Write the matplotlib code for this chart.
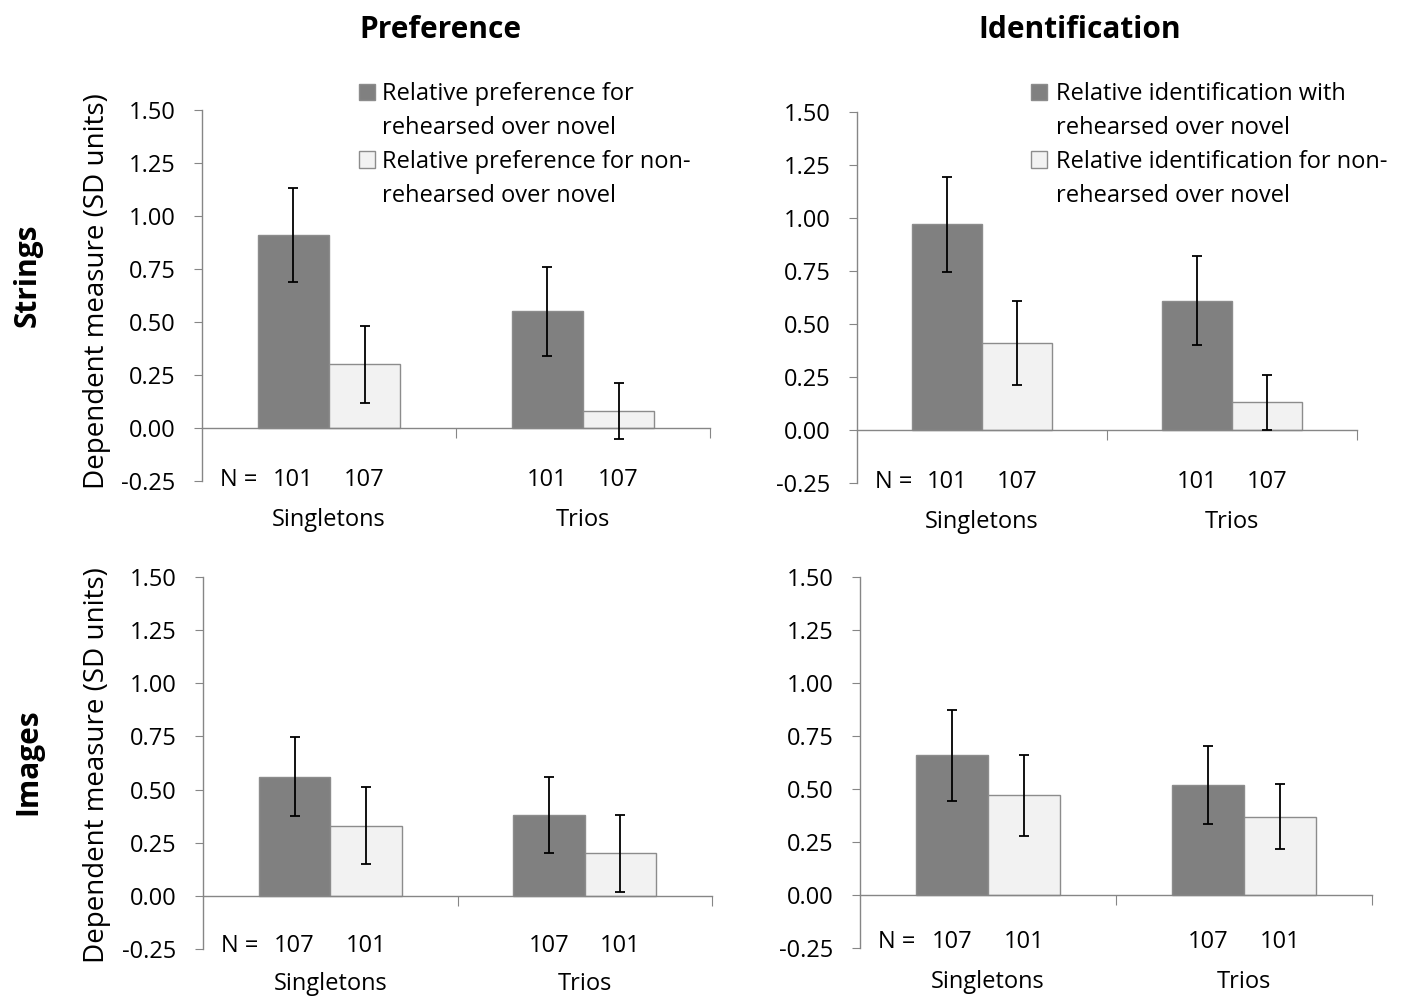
import matplotlib
matplotlib.use("Agg")
import matplotlib.pyplot as plt
from matplotlib.patches import Patch
import numpy as np

plt.rcParams['font.family'] = ['Open Sans', 'DejaVu Sans']

categories = ["Singletons", "Trios"]

# Strings / Preference
pref_str_reh = [0.91, 0.55]
pref_str_reh_err = [0.22, 0.21]
pref_str_non = [0.30, 0.08]
pref_str_non_err = [0.18, 0.13]
# Strings / Identification
iden_str_reh = [0.97, 0.61]
iden_str_reh_err = [0.225, 0.21]
iden_str_non = [0.41, 0.13]
iden_str_non_err = [0.20, 0.13]
# Images / Preference
pref_img_reh = [0.56, 0.38]
pref_img_reh_err = [0.185, 0.18]
pref_img_non = [0.33, 0.20]
pref_img_non_err = [0.18, 0.18]
# Images / Identification
iden_img_reh = [0.66, 0.52]
iden_img_reh_err = [0.215, 0.185]
iden_img_non = [0.47, 0.37]
iden_img_non_err = [0.19, 0.155]

n_strings = ["101", "107"]
n_images = ["107", "101"]

yticks = [-0.25, 0.0, 0.25, 0.50, 0.75, 1.00, 1.25, 1.50]

legend_pref = ["Relative preference for", "rehearsed over novel",
               "Relative preference for non-", "rehearsed over novel"]
legend_iden = ["Relative identification with", "rehearsed over novel",
               "Relative identification for non-", "rehearsed over novel"]

W, H = 1403, 997
fig = plt.figure(figsize=(W / 100, H / 100), dpi=100)

DARK = '#808080'
LIGHT = '#f2f2f2'
EDGE = '#8c8c8c'
AXC = '#868686'
FS = 17


def px_axes(l, r, t, b):
    return fig.add_axes([l / W, 1 - b / H, (r - l) / W, (b - t) / H])


def panel(ax, reh, reh_err, non, non_err, nlabels, n_y, cat_y):
    x = np.arange(len(categories))
    w = 0.28
    b1 = ax.bar(x - w / 2, reh, w, color=DARK, edgecolor=EDGE, linewidth=1, zorder=2)
    b2 = ax.bar(x + w / 2, non, w, color=LIGHT, edgecolor=EDGE, linewidth=1, zorder=2)
    ax.errorbar(x - w / 2, reh, yerr=reh_err, fmt='none', ecolor='black',
                elinewidth=1.3, capsize=3.5, capthick=1.3, zorder=3)
    ax.errorbar(x + w / 2, non, yerr=non_err, fmt='none', ecolor='black',
                elinewidth=1.3, capsize=3.5, capthick=1.3, zorder=3)
    ax.set_xlim(-0.5, 1.5)
    ax.set_ylim(-0.25, 1.5)
    ax.set_yticks(yticks)
    ax.set_yticklabels([f"{v:.2f}" for v in yticks], fontsize=FS)
    ax.set_xticks([0.5, 1.5])
    ax.set_xticklabels([])
    for s in ['top', 'right']:
        ax.spines[s].set_visible(False)
    ax.spines['bottom'].set_position(('data', 0))
    ax.spines['bottom'].set_color(AXC)
    ax.spines['left'].set_color(AXC)
    ax.spines['bottom'].set_linewidth(1)
    ax.spines['left'].set_linewidth(1)
    ax.tick_params(axis='y', direction='out', length=6, color=AXC, pad=13)
    ax.tick_params(axis='x', direction='out', length=7, color=AXC)
    ax.patch.set_visible(False)
    for i in range(len(categories)):
        ax.text(x[i] - w / 2, n_y, nlabels[0], ha='center', va='center',
                fontsize=FS, clip_on=False)
        ax.text(x[i] + w / 2, n_y, nlabels[1], ha='center', va='center',
                fontsize=FS, clip_on=False)
        ax.text(x[i], cat_y, categories[i], ha='center', va='center',
                fontsize=FS, clip_on=False)
    ax.text(-0.355, n_y, "N =", ha='center', va='center', fontsize=FS, clip_on=False)
    return b1, b2


def add_legend(ax, labels, x0, y0, pad):
    blank = Patch(visible=False)
    h1 = Patch(facecolor=DARK, edgecolor=EDGE, linewidth=1)
    h2 = Patch(facecolor=LIGHT, edgecolor=EDGE, linewidth=1)
    ax.legend([h1, blank, h2, blank], labels, loc='upper left',
              bbox_to_anchor=(x0 / W, 1 - y0 / H), bbox_transform=fig.transFigure,
              frameon=False, fontsize=FS, handlelength=0.68, handleheight=0.68,
              handletextpad=pad, labelspacing=0.42, borderpad=0, borderaxespad=0)


ax1 = px_axes(202, 710, 110, 481)
panel(ax1, pref_str_reh, pref_str_reh_err, pref_str_non, pref_str_non_err,
      n_strings, -0.245, -0.435)
add_legend(ax1, legend_pref, 359, 82, 0.3)

ax2 = px_axes(857, 1357, 112, 483)
panel(ax2, iden_str_reh, iden_str_reh_err, iden_str_non, iden_str_non_err,
      n_strings, -0.245, -0.435)
add_legend(ax2, legend_iden, 1031, 82, 0.4)

ax3 = px_axes(203, 712, 577, 949)
panel(ax3, pref_img_reh, pref_img_reh_err, pref_img_non, pref_img_non_err,
      n_images, -0.235, -0.415)

ax4 = px_axes(860, 1372, 577, 948)
panel(ax4, iden_img_reh, iden_img_reh_err, iden_img_non, iden_img_non_err,
      n_images, -0.22, -0.41)

fig.text(440 / W, 1 - 30 / H, "Preference", ha='center', va='center',
         fontsize=21.5, fontweight='bold')
fig.text(1080 / W, 1 - 30 / H, "Identification", ha='center', va='center',
         fontsize=21.5, fontweight='bold')
fig.text(28 / W, 1 - 275 / H, "Strings", ha='center', va='center', rotation=90,
         fontsize=21.5, fontweight='bold')
fig.text(28 / W, 1 - 762 / H, "Images", ha='center', va='center', rotation=90,
         fontsize=21.5, fontweight='bold')
fig.text(97 / W, 1 - 291 / H, "Dependent measure (SD units)", ha='center',
         va='center', rotation=90, fontsize=20)
fig.text(97 / W, 1 - 765 / H, "Dependent measure (SD units)", ha='center',
         va='center', rotation=90, fontsize=20)

fig.savefig("out.png", dpi=100, facecolor='white')
